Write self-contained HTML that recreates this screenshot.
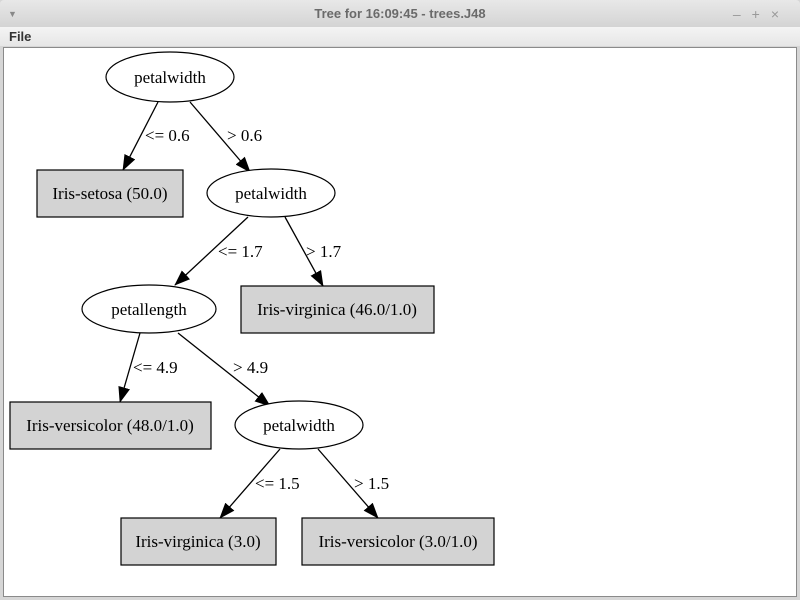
<!DOCTYPE html>
<html><head><style>
body{margin:0;width:800px;height:600px;overflow:hidden;background:#d6d6d6;font-family:"Liberation Sans",sans-serif}
#title{position:absolute;left:0;top:0;width:800px;height:27px;background:linear-gradient(#e8e8e8,#d4d4d4);color:#6a6a6a;font-weight:bold;font-size:13px;text-align:center;line-height:28px;border-radius:4px 4px 0 0}
#menu{position:absolute;left:0;top:27px;width:800px;height:19px;background:linear-gradient(#f4f4f4,#e6e6e6);font-size:13px;font-weight:bold;color:#333;line-height:19px}
#cv{position:absolute;left:3px;top:47px;width:792px;height:548px;background:#fff;border:1px solid #8a8a8a}
</style></head><body>
<div id="title"><span style="position:absolute;left:8px;top:0;font-size:9px;color:#888">▼</span>Tree for 16:09:45 - trees.J48<span style="position:absolute;right:10px;top:0;color:#999;font-weight:normal;font-size:14px;letter-spacing:11px">–+×</span></div>
<div id="menu"><span style="margin-left:9px">File</span></div>
<div id="cv"></div>
<svg width="800" height="600" style="position:absolute;left:0;top:0" font-family="Liberation Serif,serif" font-size="17">
<defs><marker id="a" markerWidth="16" markerHeight="12" refX="15" refY="6" orient="auto" markerUnits="userSpaceOnUse"><path d="M0,0L16,6L0,12z"/></marker></defs>
<g stroke="#000" stroke-width="1.3" fill="none">
<line x1="158" y1="102" x2="123" y2="170" marker-end="url(#a)"/>
<line x1="190" y1="102" x2="250" y2="172" marker-end="url(#a)"/>
<line x1="248" y1="217" x2="175" y2="285" marker-end="url(#a)"/>
<line x1="285" y1="217" x2="323" y2="286" marker-end="url(#a)"/>
<line x1="140" y1="333" x2="120" y2="402" marker-end="url(#a)"/>
<line x1="178" y1="333" x2="270" y2="406" marker-end="url(#a)"/>
<line x1="280" y1="449" x2="220" y2="518" marker-end="url(#a)"/>
<line x1="318" y1="449" x2="378" y2="518" marker-end="url(#a)"/>
</g>
<g stroke="#000" stroke-width="1.2" fill="#fff">
<ellipse cx="170" cy="77" rx="64" ry="25"/>
<ellipse cx="271" cy="193" rx="64" ry="24"/>
<ellipse cx="149" cy="309" rx="67" ry="24"/>
<ellipse cx="299" cy="425" rx="64" ry="24"/>
</g>
<g stroke="#000" stroke-width="1.2" fill="#d3d3d3">
<rect x="37" y="170" width="146" height="47"/>
<rect x="241" y="286" width="193" height="47"/>
<rect x="10" y="402" width="201" height="47"/>
<rect x="121" y="518" width="155" height="47"/>
<rect x="302" y="518" width="192" height="47"/>
</g>
<g text-anchor="middle">
<text x="170" y="83">petalwidth</text>
<text x="271" y="199">petalwidth</text>
<text x="149" y="315">petallength</text>
<text x="299" y="431">petalwidth</text>
<text x="110" y="199">Iris-setosa (50.0)</text>
<text x="337" y="315">Iris-virginica (46.0/1.0)</text>
<text x="110" y="431">Iris-versicolor (48.0/1.0)</text>
<text x="198" y="547">Iris-virginica (3.0)</text>
<text x="398" y="547">Iris-versicolor (3.0/1.0)</text>
</g>
<text x="145" y="141">&lt;= 0.6</text>
<text x="227" y="141">&gt; 0.6</text>
<text x="218" y="257">&lt;= 1.7</text>
<text x="306" y="257">&gt; 1.7</text>
<text x="133" y="373">&lt;= 4.9</text>
<text x="233" y="373">&gt; 4.9</text>
<text x="255" y="489">&lt;= 1.5</text>
<text x="354" y="489">&gt; 1.5</text>
</svg>
</body></html>
